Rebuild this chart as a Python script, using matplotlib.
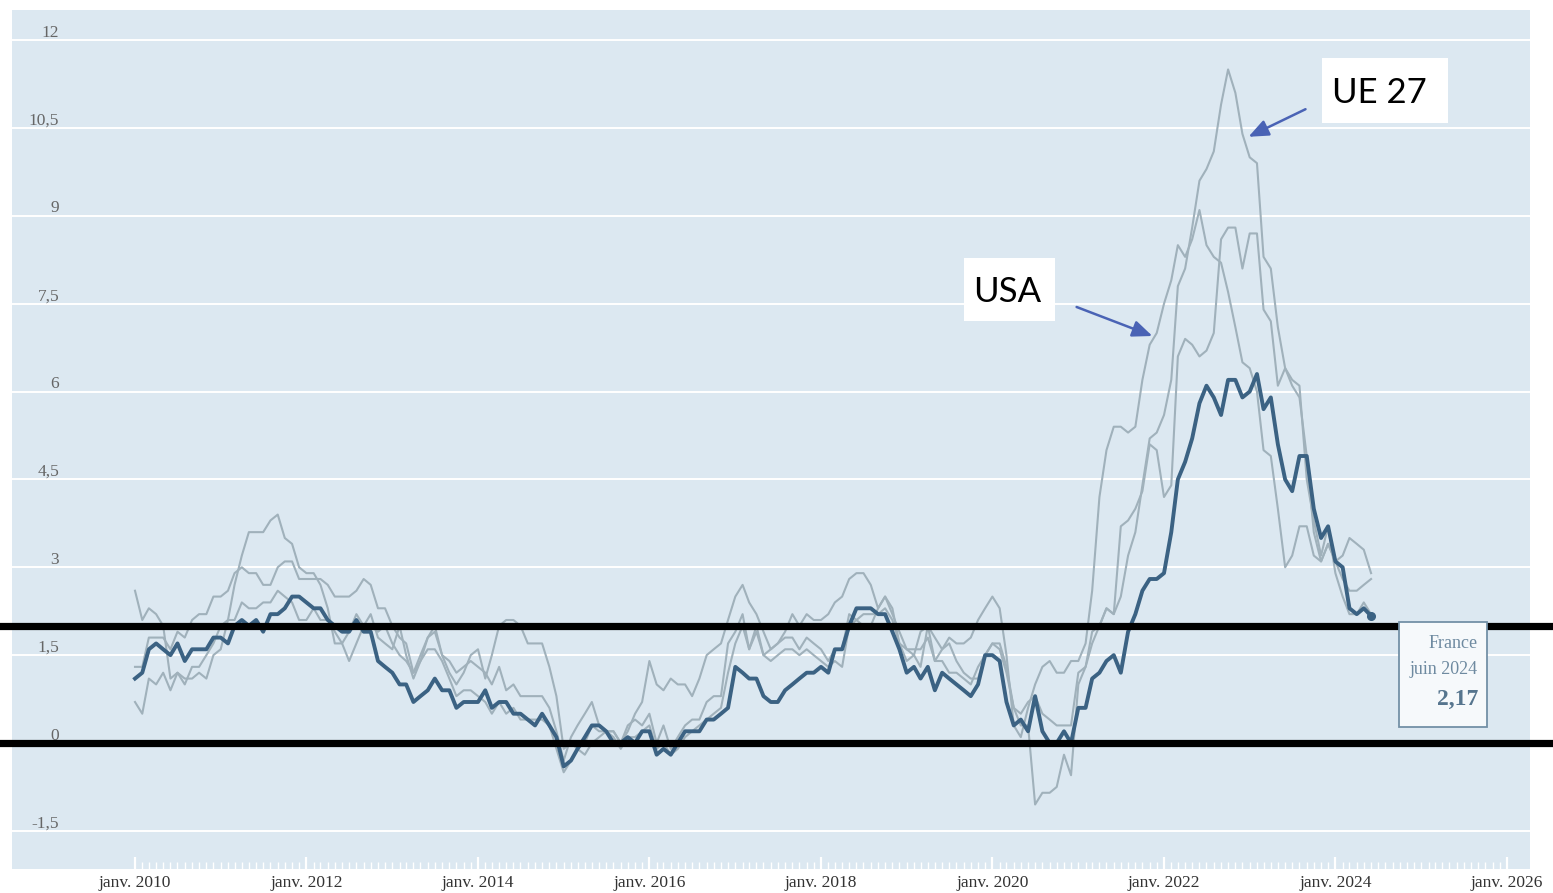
import numpy as np
import pandas as pd
import matplotlib
matplotlib.use("Agg")
import matplotlib.pyplot as plt
import matplotlib.dates as mdates
from matplotlib.patches import Rectangle
from matplotlib.ticker import FixedLocator, FuncFormatter

# ---------------- data (annual inflation, %, monthly) ----------------
months = pd.date_range("2010-01-01", "2024-06-01", freq="MS")

france = [
    1.1, 1.2, 1.6, 1.7, 1.6, 1.5, 1.7, 1.4, 1.6, 1.6, 1.6, 1.8,
    1.8, 1.7, 2.0, 2.1, 2.0, 2.1, 1.9, 2.2, 2.2, 2.3, 2.5, 2.5,
    2.4, 2.3, 2.3, 2.1, 2.0, 1.9, 1.9, 2.1, 1.9, 1.9, 1.4, 1.3,
    1.2, 1.0, 1.0, 0.7, 0.8, 0.9, 1.1, 0.9, 0.9, 0.6, 0.7, 0.7,
    0.7, 0.9, 0.6, 0.7, 0.7, 0.5, 0.5, 0.4, 0.3, 0.5, 0.3, 0.1,
    -0.4, -0.3, -0.1, 0.1, 0.3, 0.3, 0.2, 0.0, 0.0, 0.1, 0.0, 0.2,
    0.2, -0.2, -0.1, -0.2, 0.0, 0.2, 0.2, 0.2, 0.4, 0.4, 0.5, 0.6,
    1.3, 1.2, 1.1, 1.1, 0.8, 0.7, 0.7, 0.9, 1.0, 1.1, 1.2, 1.2,
    1.3, 1.2, 1.6, 1.6, 2.0, 2.3, 2.3, 2.3, 2.2, 2.2, 1.9, 1.6,
    1.2, 1.3, 1.1, 1.3, 0.9, 1.2, 1.1, 1.0, 0.9, 0.8, 1.0, 1.5,
    1.5, 1.4, 0.7, 0.3, 0.4, 0.2, 0.8, 0.2, 0.0, 0.0, 0.2, 0.0,
    0.6, 0.6, 1.1, 1.2, 1.4, 1.5, 1.2, 1.9, 2.2, 2.6, 2.8, 2.8,
    2.9, 3.6, 4.5, 4.8, 5.2, 5.8, 6.1, 5.9, 5.6, 6.2, 6.2, 5.9,
    6.0, 6.3, 5.7, 5.9, 5.1, 4.5, 4.3, 4.9, 4.9, 4.0, 3.5, 3.7,
    3.1, 3.0, 2.3, 2.2, 2.3, 2.17,
]

usa = [
    2.6, 2.1, 2.3, 2.2, 2.0, 1.1, 1.2, 1.1, 1.1, 1.2, 1.1, 1.5,
    1.6, 2.1, 2.7, 3.2, 3.6, 3.6, 3.6, 3.8, 3.9, 3.5, 3.4, 3.0,
    2.9, 2.9, 2.7, 2.3, 1.7, 1.7, 1.4, 1.7, 2.0, 2.2, 1.8, 1.7,
    1.6, 2.0, 1.5, 1.1, 1.4, 1.8, 2.0, 1.5, 1.2, 1.0, 1.2, 1.5,
    1.6, 1.1, 1.5, 2.0, 2.1, 2.1, 2.0, 1.7, 1.7, 1.7, 1.3, 0.8,
    -0.1, 0.0, -0.1, -0.2, 0.0, 0.1, 0.2, 0.2, 0.0, 0.2, 0.5, 0.7,
    1.4, 1.0, 0.9, 1.1, 1.0, 1.0, 0.8, 1.1, 1.5, 1.6, 1.7, 2.1,
    2.5, 2.7, 2.4, 2.2, 1.9, 1.6, 1.7, 1.9, 2.2, 2.0, 2.2, 2.1,
    2.1, 2.2, 2.4, 2.5, 2.8, 2.9, 2.9, 2.7, 2.3, 2.5, 2.2, 1.9,
    1.6, 1.5, 1.9, 2.0, 1.8, 1.6, 1.8, 1.7, 1.7, 1.8, 2.1, 2.3,
    2.5, 2.3, 1.5, 0.3, 0.1, 0.6, 1.0, 1.3, 1.4, 1.2, 1.2, 1.4,
    1.4, 1.7, 2.6, 4.2, 5.0, 5.4, 5.4, 5.3, 5.4, 6.2, 6.8, 7.0,
    7.5, 7.9, 8.5, 8.3, 8.6, 9.1, 8.5, 8.3, 8.2, 7.7, 7.1, 6.5,
    6.4, 6.0, 5.0, 4.9, 4.0, 3.0, 3.2, 3.7, 3.7, 3.2, 3.1, 3.4,
    3.1, 3.2, 3.5, 3.4, 3.3, 2.9,
]

ue27 = [
    1.3, 1.3, 1.8, 1.8, 1.8, 1.6, 1.9, 1.8, 2.1, 2.2, 2.2, 2.5,
    2.5, 2.6, 2.9, 3.0, 2.9, 2.9, 2.7, 2.7, 3.0, 3.1, 3.1, 2.8,
    2.8, 2.8, 2.8, 2.7, 2.5, 2.5, 2.5, 2.6, 2.8, 2.7, 2.3, 2.3,
    2.0, 1.8, 1.7, 1.2, 1.4, 1.6, 1.6, 1.4, 1.1, 0.8, 0.9, 0.9,
    0.8, 0.7, 0.5, 0.7, 0.5, 0.6, 0.4, 0.4, 0.4, 0.4, 0.3, -0.1,
    -0.5, -0.3, -0.1, 0.0, 0.3, 0.2, 0.2, 0.1, -0.1, 0.1, 0.1, 0.2,
    0.3, -0.1, 0.0, -0.2, -0.1, 0.1, 0.2, 0.3, 0.4, 0.5, 0.6, 1.2,
    1.7, 2.0, 1.6, 1.9, 1.5, 1.4, 1.5, 1.6, 1.6, 1.5, 1.6, 1.5,
    1.4, 1.3, 1.4, 1.3, 2.0, 2.1, 2.2, 2.2, 2.2, 2.3, 2.1, 1.7,
    1.6, 1.6, 1.6, 1.8, 1.4, 1.4, 1.2, 1.2, 1.1, 1.0, 1.3, 1.5,
    1.7, 1.6, 1.2, 0.6, 0.5, 0.7, 0.8, 0.5, 0.4, 0.3, 0.3, 0.3,
    1.2, 1.3, 1.7, 2.0, 2.3, 2.2, 2.5, 3.2, 3.6, 4.4, 5.2, 5.3,
    5.6, 6.2, 7.8, 8.1, 8.8, 9.6, 9.8, 10.1, 10.9, 11.5, 11.1, 10.4,
    10.0, 9.9, 8.3, 8.1, 7.1, 6.4, 6.1, 5.9, 4.9, 3.6, 3.1, 3.4,
    3.1, 2.8, 2.6, 2.6, 2.7, 2.8,
]

allemagne = [
    0.7, 0.5, 1.1, 1.0, 1.2, 0.9, 1.2, 1.0, 1.3, 1.3, 1.5, 1.7,
    2.0, 2.1, 2.1, 2.4, 2.3, 2.3, 2.4, 2.4, 2.6, 2.5, 2.4, 2.1,
    2.1, 2.3, 2.1, 2.1, 1.9, 1.7, 1.9, 2.2, 2.0, 2.0, 1.9, 2.0,
    1.7, 1.5, 1.4, 1.2, 1.5, 1.8, 1.9, 1.5, 1.4, 1.2, 1.3, 1.4,
    1.3, 1.2, 1.0, 1.3, 0.9, 1.0, 0.8, 0.8, 0.8, 0.8, 0.6, 0.2,
    -0.3, 0.1, 0.3, 0.5, 0.7, 0.3, 0.2, 0.2, 0.0, 0.3, 0.4, 0.3,
    0.5, 0.0, 0.3, -0.1, 0.1, 0.3, 0.4, 0.4, 0.7, 0.8, 0.8, 1.7,
    1.9, 2.2, 1.6, 2.0, 1.5, 1.6, 1.7, 1.8, 1.8, 1.6, 1.8, 1.7,
    1.6, 1.4, 1.6, 1.6, 2.2, 2.1, 2.0, 2.0, 2.3, 2.5, 2.3, 1.7,
    1.4, 1.5, 1.3, 2.0, 1.4, 1.6, 1.7, 1.4, 1.2, 1.1, 1.1, 1.5,
    1.7, 1.7, 1.3, 0.6, 0.3, 0.3, -1.05, -0.85, -0.85, -0.75, -0.2, -0.55,
    1.0, 1.3, 1.9, 2.0, 2.3, 2.2, 3.7, 3.8, 4.0, 4.3, 5.1, 5.0,
    4.2, 4.4, 6.6, 6.9, 6.8, 6.6, 6.7, 7.0, 8.6, 8.8, 8.8, 8.1,
    8.7, 8.7, 7.4, 7.2, 6.1, 6.4, 6.2, 6.1, 4.5, 3.8, 3.2, 3.7,
    2.9, 2.5, 2.2, 2.2, 2.4, 2.2,
]

y_ticks = [-1.5, 0, 1.5, 3, 4.5, 6, 7.5, 9, 10.5, 12]
y_tick_labels = ["-1,5", "0", "1,5", "3", "4,5", "6", "7,5", "9", "10,5", "12"]
x_years = list(range(2010, 2027, 2))

# ---------------- figure ----------------
W, H = 1553, 893
fig = plt.figure(figsize=(W / 100, H / 100), dpi=100)
fig.patch.set_facecolor("white")

left_px, right_px, top_px, bot_px = 12, 1530, 10, 869
ax = fig.add_axes([left_px / W, 1 - bot_px / H,
                   (right_px - left_px) / W, (bot_px - top_px) / H])
ax.set_facecolor("#dce8f1")
for s in ax.spines.values():
    s.set_visible(False)

# x scale: janv. 2010 at px 135, janv. 2026 at px 1507
d0 = mdates.date2num(pd.Timestamp("2010-01-01"))
d1 = mdates.date2num(pd.Timestamp("2026-01-01"))
ppd = (1507 - 135) / (d1 - d0)
ax.set_xlim(d0 + (left_px - 135) / ppd, d0 + (right_px - 135) / ppd)

# y scale: 0 at px 743, 58.57 px per unit
ppu = 58.57
ax.set_ylim((743 - bot_px) / ppu, (743 - top_px) / ppu)

ax.set_yticks(y_ticks)
ax.tick_params(axis="y", length=0, labelleft=False)
ax.grid(axis="y", color="white", lw=1.4, zorder=0)
ax.set_axisbelow(True)

serif = ["Liberation Serif", "DejaVu Serif"]
for v, lab in zip(y_ticks, y_tick_labels):
    ax.text((59 - left_px) / (right_px - left_px), v - 0.01, lab,
            transform=ax.get_yaxis_transform(), ha="right", va="bottom",
            fontsize=12.5, color="#666666", family=serif)

major = [mdates.date2num(pd.Timestamp(f"{y}-01-01")) for y in x_years]
minor = [mdates.date2num(d) for d in pd.date_range("2010-01-01", "2026-01-01", freq="MS")]
ax.xaxis.set_major_locator(FixedLocator(major))
ax.xaxis.set_minor_locator(FixedLocator(minor))
ax.xaxis.set_major_formatter(FuncFormatter(
    lambda x, pos: "janv. " + str(mdates.num2date(x).year)))
ax.tick_params(axis="x", which="major", direction="in", color="white",
               length=9, width=1.6, pad=4, labelsize=12.5, labelcolor="#333333")
ax.tick_params(axis="x", which="minor", direction="in", color="white",
               length=5, width=1.0)
for t in ax.get_xticklabels():
    t.set_family(serif)

gray = "#a0b1bb"
xd = mdates.date2num(months)
ax.plot(xd, usa, color=gray, lw=1.5, zorder=2)
ax.plot(xd, ue27, color=gray, lw=1.5, zorder=2)
ax.plot(xd, allemagne, color=gray, lw=1.5, zorder=2)
ax.plot(xd, france, color="#3b6283", lw=2.8, zorder=3)
ax.plot(xd[-1], france[-1], "o", ms=5.5, color="#3b6283", zorder=4)

# black reference lines across the full width
ext0 = -left_px / (right_px - left_px)
ext1 = (W - left_px) / (right_px - left_px)
for v in (2.0, 0.0):
    ax.axhline(v, xmin=ext0, xmax=ext1, color="black", lw=5.2,
               clip_on=False, zorder=6)

def fx(px):
    return px / W

def fy(py):
    return 1 - py / H

# tooltip box
fig.patches.append(Rectangle((fx(1399), fy(727)), fx(1487) - fx(1399), fy(622) - fy(727),
                             transform=fig.transFigure, facecolor="#f6f9fb",
                             edgecolor="#7390a6", lw=1.3, zorder=5))
fig.text(fx(1478), fy(643), "France", ha="right", va="center", fontsize=13,
         color="#6e8aa0", family=serif, zorder=7)
fig.text(fx(1478), fy(670), "juin 2024", ha="right", va="center", fontsize=13,
         color="#6e8aa0", family=serif, zorder=7)
fig.text(fx(1478), fy(699), "2,17", ha="right", va="center", fontsize=17,
         color="#56758e", family=serif, fontweight="bold", zorder=7)

# labelled boxes with arrows
sans = ["Lato", "DejaVu Sans"]
fig.patches.append(Rectangle((fx(1322), fy(123)), fx(1448) - fx(1322), fy(58) - fy(123),
                             transform=fig.transFigure, facecolor="white",
                             edgecolor="none", zorder=8))
fig.text(fx(1332), fy(103), "UE 27", ha="left", va="baseline", fontsize=25,
         color="black", family=sans, zorder=9)
fig.patches.append(Rectangle((fx(964), fy(321)), fx(1055) - fx(964), fy(258) - fy(321),
                             transform=fig.transFigure, facecolor="white",
                             edgecolor="none", zorder=8))
fig.text(fx(973), fy(302), "USA", ha="left", va="baseline", fontsize=25,
         color="black", family=sans, zorder=9)

arrow_color = "#4a63b5"
for (x0, y0), (x1, y1) in [((1308, 108), (1246, 138)), ((1074, 306), (1155, 337))]:
    fig.add_artist(matplotlib.patches.FancyArrowPatch(
        (fx(x0), fy(y0)), (fx(x1), fy(y1)), transform=fig.transFigure,
        arrowstyle="-|>,head_length=0.6,head_width=0.25", mutation_scale=20,
        color=arrow_color, lw=1.8, zorder=9))

fig.savefig("out.png", dpi=100)
